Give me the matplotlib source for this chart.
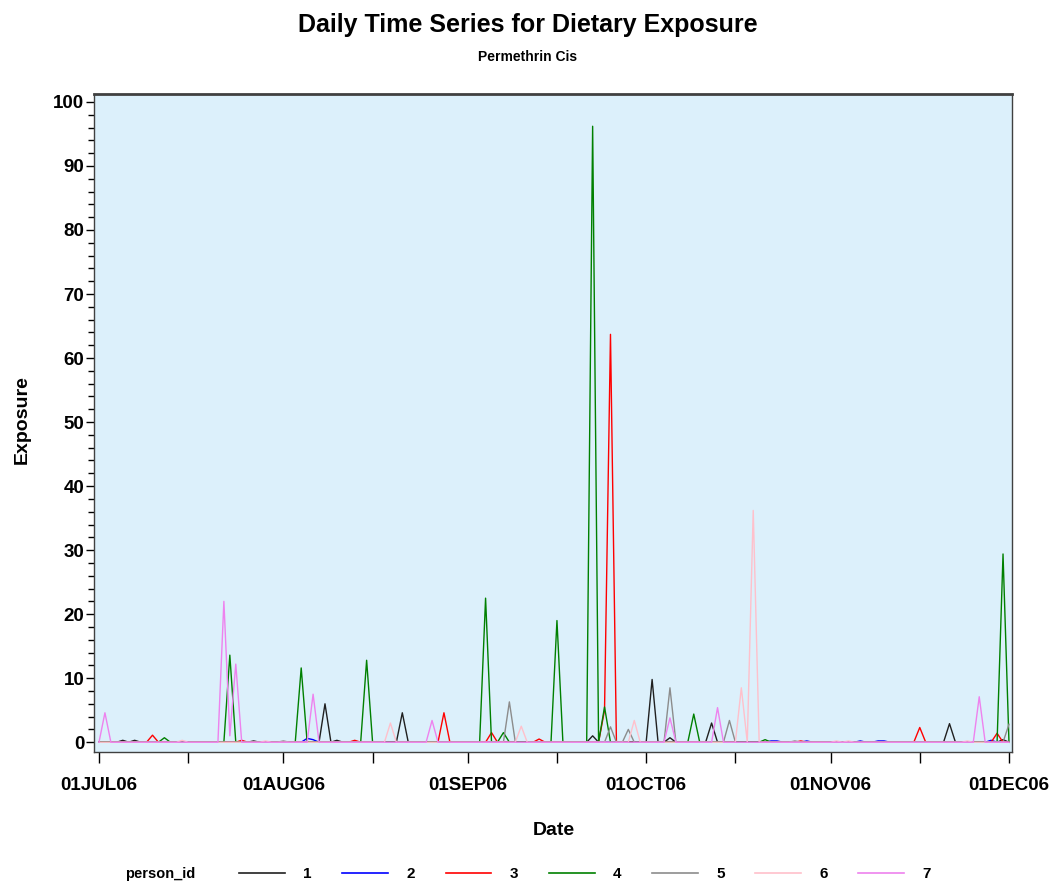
import numpy as np
import pandas as pd
import matplotlib
matplotlib.use("Agg")
import matplotlib.pyplot as plt
import matplotlib.dates as mdates
from matplotlib.ticker import MultipleLocator, FuncFormatter
from matplotlib.lines import Line2D

plt.rcParams['font.family'] = ['Liberation Sans Narrow', 'Liberation Sans', 'DejaVu Sans']

startDate = "2006-07-01"
nDays = 154  # 01JUL06 .. 01DEC06

# non-zero exposures, day = offset from 01JUL06
p1Days = [4, 6, 26, 38, 40, 51, 83, 93, 96, 103, 143, 152]
p1Vals = [0.3, 0.3, 0.2, 6.0, 0.3, 4.6, 1.0, 9.8, 0.7, 3.0, 2.9, 0.4]
p2Days = [35, 36, 113, 114, 119, 128, 131, 132, 150]
p2Vals = [0.6, 0.4, 0.2, 0.2, 0.2, 0.2, 0.2, 0.2, 0.3]
p3Days = [9, 24, 43, 58, 66, 74, 85, 86, 118, 138, 151]
p3Vals = [1.1, 0.3, 0.3, 4.6, 1.5, 0.5, 5.0, 63.7, 0.2, 2.3, 1.4]
p4Days = [11, 22, 34, 45, 65, 68, 77, 83, 85, 100, 112, 152]
p4Vals = [0.7, 13.6, 11.6, 12.8, 22.5, 1.5, 19.0, 96.2, 5.5, 4.4, 0.4, 29.4]
p5Days = [31, 69, 86, 89, 96, 106, 117, 153]
p5Vals = [0.2, 6.3, 2.4, 2.0, 8.5, 3.4, 0.2, 2.8]
p6Days = [14, 28, 49, 71, 90, 108, 110, 124, 126, 146]
p6Vals = [0.3, 0.2, 3.0, 2.5, 3.4, 8.5, 36.2, 0.2, 0.2, 0.2]
p7Days = [1, 21, 22, 23, 36, 56, 96, 104, 148]
p7Vals = [4.6, 22.0, 1.0, 12.2, 7.5, 3.4, 3.8, 5.4, 7.1]

personIds = ['1', '2', '3', '4', '5', '6', '7']
personColors = ['#202020', '#0000ff', '#ff0000', '#008000', '#8c8c8c', '#ffc0cb', '#ee82ee']
allDays = [p1Days, p2Days, p3Days, p4Days, p5Days, p6Days, p7Days]
allVals = [p1Vals, p2Vals, p3Vals, p4Vals, p5Vals, p6Vals, p7Vals]

dates = pd.date_range(startDate, periods=nDays, freq='D')

fig = plt.figure(figsize=(10.56, 8.86), dpi=100)
ax = fig.add_axes([0.089, 0.151, 0.869, 0.743])
ax.set_facecolor('#dcf0fb')

for pid, col, days, vals in zip(personIds, personColors, allDays, allVals):
    series = np.zeros(nDays)
    series[days] = vals
    ax.plot(dates, series, color=col, lw=1.0, label=pid)

x0 = mdates.date2num(pd.Timestamp(startDate))
ax.set_xlim(x0 - 0.84, x0 + 153.45)
ax.set_ylim(-1.56, 101.25)

ax.xaxis.set_major_locator(mdates.MonthLocator(bymonthday=1))
ax.xaxis.set_minor_locator(mdates.MonthLocator(bymonthday=16))
ax.xaxis.set_major_formatter(FuncFormatter(lambda v, p: mdates.num2date(v).strftime('%d%b%y').upper()))
ax.yaxis.set_major_locator(MultipleLocator(10))
ax.yaxis.set_minor_locator(MultipleLocator(2))

ax.tick_params(axis='y', which='major', length=6, width=1, direction='out', labelsize=13.5, pad=1)
ax.tick_params(axis='y', which='minor', length=4, width=1, direction='out')
ax.tick_params(axis='x', which='both', length=8, width=1, direction='out', labelsize=13.5, pad=10)
for lbl in ax.get_xticklabels() + ax.get_yticklabels():
    lbl.set_fontweight('bold')
for sp in ax.spines.values():
    sp.set_color('#404040')
    sp.set_linewidth(1.0)
ax.spines['top'].set_linewidth(2.0)

fig.text(0.5, 0.972, 'Daily Time Series for Dietary Exposure', ha='center', va='center',
         fontsize=18, fontweight='bold')
fig.text(0.5, 0.936, 'Permethrin Cis', ha='center', va='center', fontsize=10, fontweight='bold')
fig.text(0.524, 0.063, 'Date', ha='center', va='center', fontsize=14, fontweight='bold')
fig.text(0.021, 0.526, 'Exposure', ha='center', va='center', fontsize=14, fontweight='bold',
         rotation=90)

fig.text(0.152, 0.013, 'person_id', ha='center', va='center', fontsize=10.5, fontweight='bold')
handles = [Line2D([], [], color=c, lw=1.2) for c in personColors]
leg = fig.legend(handles, personIds, loc='center', bbox_to_anchor=(0.554, 0.013), ncol=7,
                 frameon=False, handlelength=3.0, handletextpad=1.2, columnspacing=2.0,
                 prop={'size': 11, 'weight': 'bold'})

fig.savefig('out.png', dpi=100)
